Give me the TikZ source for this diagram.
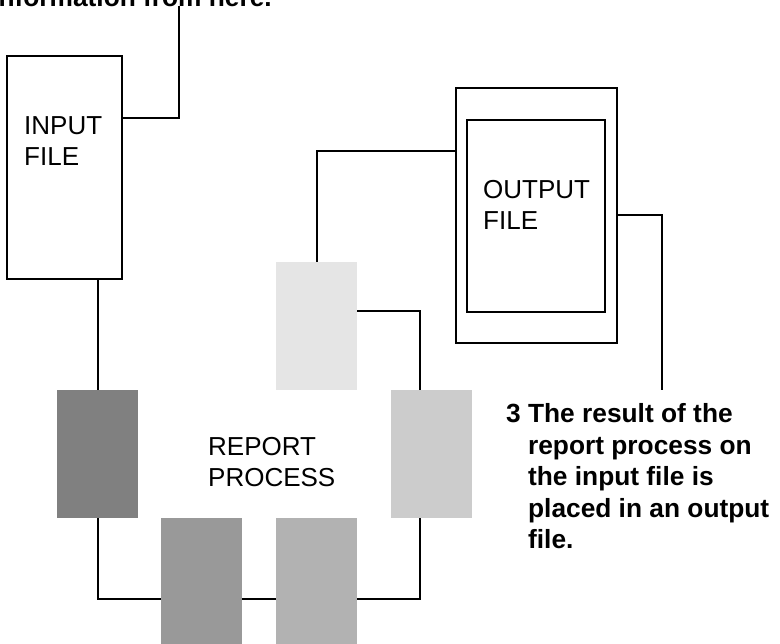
\documentclass[tikz,border=0pt]{standalone}
\usepackage{fontspec}
\setmainfont{Liberation Sans}
\definecolor{shadeA}{HTML}{808080}
\definecolor{shadeB}{HTML}{999999}
\definecolor{shadeC}{HTML}{B2B2B2}
\definecolor{shadeD}{HTML}{CCCCCC}
\definecolor{shadeE}{HTML}{E5E5E5}
\tikzset{
  filebox/.style={draw=black, line width=1.6pt, fill=white, inner sep=0pt, anchor=north west},
  stagebox/.style={draw=none, inner sep=0pt, anchor=north west, minimum width=81pt},
  wire/.style={draw=black, line width=1.6pt},
  plain/.style={inner sep=0pt, align=left, anchor=base west, font=\fontsize{26}{31.5}\selectfont},
  note/.style={inner sep=0pt, anchor=base west, font=\fontsize{26.3}{31.5}\selectfont\bfseries},
}
\begin{document}
\begin{tikzpicture}[x=1pt, y=-1pt]
\useasboundingbox (0,0) rectangle (780,644);
\clip (0,0) rectangle (780,644);

% files
\node[filebox, minimum width=115pt, minimum height=223pt] (inp) at (6,55) {};
\node[filebox, minimum width=161pt, minimum height=255pt] (outo) at (455,87) {};
\node[filebox, minimum width=138pt, minimum height=192pt] (outi) at (466,119) {};

% stages of the report process
\node[stagebox, fill=shadeA, minimum height=128pt] (g1) at (57,390) {};
\node[stagebox, fill=shadeB, minimum height=162pt] (g2) at (161,518) {};
\node[stagebox, fill=shadeC, minimum height=162pt] (g3) at (276,518) {};
\node[stagebox, fill=shadeD, minimum height=128pt] (g4) at (391,390) {};
\node[stagebox, fill=shadeE, minimum height=128pt] (g5) at (276,262) {};

% loose ends of the callout wires
\coordinate (c1) at (179,6);
\coordinate (c3) at (662,390);

% wires
\draw[wire] ([yshift=-63pt]inp.north east) -| (c1);
\draw[wire] (g1.north) -- (g1.north |- inp.south);
\draw[wire] (g1.south) |- (g2.west);
\draw[wire] (g2.east) -- (g3.west);
\draw[wire] (g3.east) -| ([xshift=29pt]g4.south west);
\draw[wire] ([xshift=29pt]g4.north west) |- ([yshift=-49pt]g5.north east);
\draw[wire] (g5.north) |- ([yshift=-64pt]outo.north west);
\draw[wire] (outo.east) -| (c3);

% labels (multi-line nodes sit on the baseline of their last line)
\node[note, anchor=base east] (ttop) at (272,7) {information from here.};
\node[plain] (tin) at (24,166) {INPUT\\FILE};
\node[plain] (tout) at (483,230) {OUTPUT\\FILE};
\node[plain] (trep) at (208,487) {REPORT\\PROCESS};
\node[note] (tnote) at (506,423) {\begin{tabular}[t]{@{}l@{\ }l@{}}
3 & The result of the\\
  & report process on\\
  & the input file is\\
  & placed in an output\\
  & file.
\end{tabular}};
\end{tikzpicture}
\end{document}
